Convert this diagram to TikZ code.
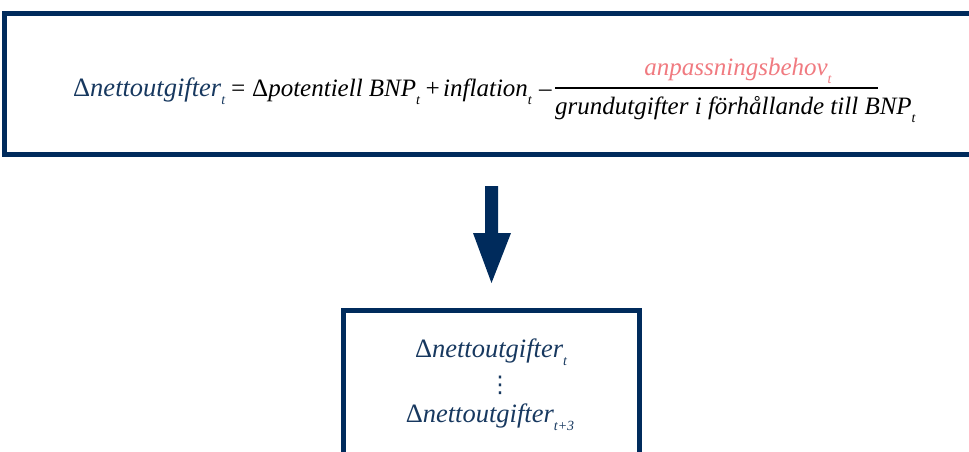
\documentclass[tikz,border=0pt]{standalone}
\usepackage{fontspec}
\setmainfont{Liberation Serif}
\newfontfamily\dejavu{DejaVu Sans}
\definecolor{navy}{HTML}{002B5C}
\definecolor{navytext}{HTML}{17385F}
\definecolor{pinktext}{HTML}{F07A80}
\newcommand{\lowsub}[1]{\raisebox{-0.32em}{\fontsize{14}{14}\selectfont #1}}
\begin{document}
\begin{tikzpicture}[x=1pt,y=-1pt,
  frame/.style={draw=navy,line width=5pt},
  eq/.style={inner sep=0pt,anchor=base west,font=\fontsize{25}{30}\selectfont\itshape},
  eqb/.style={eq,font=\fontsize{26.5}{30}\selectfont\itshape}]
\clip (0,0) rectangle (969,451);
% top box
\draw[frame] (980,13.5) -- (4.7,13.5) -- (4.7,154) -- (980,154);
\node[eqb,text=navytext] (lhs) at (73,96) {\textup{Δ}nettoutgifter\lowsub{t}};
\node[eq] (eqs) at (229.5,96) {=};
\node[eq] (pot) at (252,96) {\textup{Δ}potentiell BNP\lowsub{t}};
\node[eq] (plus) at (424,96) {+};
\node[eq] (infl) at (443,96) {inflation\lowsub{t}};
\node[eq] (minus) at (539,96) {–};
\node[eq,anchor=base,text=pinktext] (num) at (738,75) {anpassningsbehov\lowsub{t}};
\node[eq] (den) at (555,114) {grundutgifter i förhållande till BNP\lowsub{t}};
\coordinate (fl) at (555,88);
\coordinate (fr) at (878,88);
\draw[line width=1.4pt] (fl) -- (fr);
% arrow
\coordinate (atop) at (491.5,186);
\coordinate (atip) at (491.5,283);
\fill[navy] (485,186) -- (498,186) -- (498,233) -- (511,233) -- (atip) -- (473,233) -- (485,233) -- cycle;
% bottom box
\draw[frame] (343,460) -- (343,310) -- (639.5,310) -- (639.5,460);
\node[eqb,anchor=base,text=navytext] (b1) at (491,357) {\textup{Δ}nettoutgifter\lowsub{t}};
\node[inner sep=0pt,text=navytext,font=\dejavu\fontsize{23}{23}\selectfont] (dots) at (500,385.5) {⋮};
\node[eqb,anchor=base,text=navytext] (b2) at (490,422) {\textup{Δ}nettoutgifter\lowsub{t+3}};
\end{tikzpicture}
\end{document}
